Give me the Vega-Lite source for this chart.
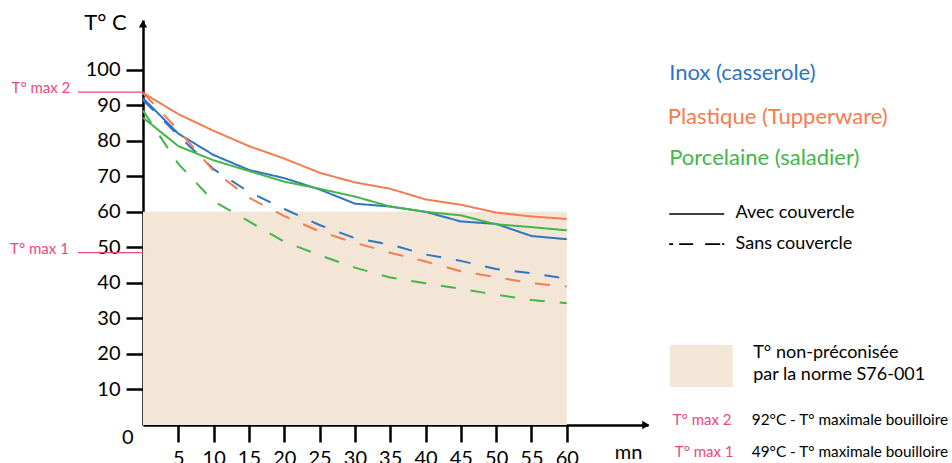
{
  "$schema": "https://vega.github.io/schema/vega-lite/v6.json",
  "width": 505,
  "height": 405,
  "autosize": {"type": "none"},
  "padding": {"left": 143, "top": 20, "right": 304, "bottom": 38},
  "background": "white",
  "config": {"view": {"stroke": null}, "font": "Lato"},
  "datasets": {
    "series": [
      {"m": "Inox (casserole)", "c": "Avec couvercle", "t": 0, "v": 92},
      {"m": "Inox (casserole)", "c": "Avec couvercle", "t": 5, "v": 82},
      {"m": "Inox (casserole)", "c": "Avec couvercle", "t": 10, "v": 76},
      {"m": "Inox (casserole)", "c": "Avec couvercle", "t": 15, "v": 71.8},
      {"m": "Inox (casserole)", "c": "Avec couvercle", "t": 20, "v": 69.5},
      {"m": "Inox (casserole)", "c": "Avec couvercle", "t": 25, "v": 66.3},
      {"m": "Inox (casserole)", "c": "Avec couvercle", "t": 30, "v": 62.3},
      {"m": "Inox (casserole)", "c": "Avec couvercle", "t": 35, "v": 61.5},
      {"m": "Inox (casserole)", "c": "Avec couvercle", "t": 40, "v": 60},
      {"m": "Inox (casserole)", "c": "Avec couvercle", "t": 45, "v": 57.3},
      {"m": "Inox (casserole)", "c": "Avec couvercle", "t": 50, "v": 56.6},
      {"m": "Inox (casserole)", "c": "Avec couvercle", "t": 55, "v": 53.2},
      {"m": "Inox (casserole)", "c": "Avec couvercle", "t": 60, "v": 52.3},
      {"m": "Inox (casserole)", "c": "Sans couvercle", "t": 0, "v": 91.5},
      {"m": "Inox (casserole)", "c": "Sans couvercle", "t": 5, "v": 81.5},
      {"m": "Inox (casserole)", "c": "Sans couvercle", "t": 10, "v": 72},
      {"m": "Inox (casserole)", "c": "Sans couvercle", "t": 15, "v": 65.6},
      {"m": "Inox (casserole)", "c": "Sans couvercle", "t": 20, "v": 60.8},
      {"m": "Inox (casserole)", "c": "Sans couvercle", "t": 25, "v": 56.3},
      {"m": "Inox (casserole)", "c": "Sans couvercle", "t": 30, "v": 52.6},
      {"m": "Inox (casserole)", "c": "Sans couvercle", "t": 35, "v": 50.8},
      {"m": "Inox (casserole)", "c": "Sans couvercle", "t": 40, "v": 48},
      {"m": "Inox (casserole)", "c": "Sans couvercle", "t": 45, "v": 46.2},
      {"m": "Inox (casserole)", "c": "Sans couvercle", "t": 50, "v": 43.9},
      {"m": "Inox (casserole)", "c": "Sans couvercle", "t": 55, "v": 42.7},
      {"m": "Inox (casserole)", "c": "Sans couvercle", "t": 60, "v": 41.2},
      {"m": "Plastique (Tupperware)", "c": "Avec couvercle", "t": 0, "v": 93.5},
      {"m": "Plastique (Tupperware)", "c": "Avec couvercle", "t": 5, "v": 87.5},
      {"m": "Plastique (Tupperware)", "c": "Avec couvercle", "t": 10, "v": 82.8},
      {"m": "Plastique (Tupperware)", "c": "Avec couvercle", "t": 15, "v": 78.5},
      {"m": "Plastique (Tupperware)", "c": "Avec couvercle", "t": 20, "v": 75},
      {"m": "Plastique (Tupperware)", "c": "Avec couvercle", "t": 25, "v": 71},
      {"m": "Plastique (Tupperware)", "c": "Avec couvercle", "t": 30, "v": 68.3},
      {"m": "Plastique (Tupperware)", "c": "Avec couvercle", "t": 35, "v": 66.5},
      {"m": "Plastique (Tupperware)", "c": "Avec couvercle", "t": 40, "v": 63.5},
      {"m": "Plastique (Tupperware)", "c": "Avec couvercle", "t": 45, "v": 62},
      {"m": "Plastique (Tupperware)", "c": "Avec couvercle", "t": 50, "v": 59.8},
      {"m": "Plastique (Tupperware)", "c": "Avec couvercle", "t": 55, "v": 58.7},
      {"m": "Plastique (Tupperware)", "c": "Avec couvercle", "t": 60, "v": 58},
      {"m": "Plastique (Tupperware)", "c": "Sans couvercle", "t": 0, "v": 93.5},
      {"m": "Plastique (Tupperware)", "c": "Sans couvercle", "t": 5, "v": 83},
      {"m": "Plastique (Tupperware)", "c": "Sans couvercle", "t": 10, "v": 71.5},
      {"m": "Plastique (Tupperware)", "c": "Sans couvercle", "t": 15, "v": 64},
      {"m": "Plastique (Tupperware)", "c": "Sans couvercle", "t": 20, "v": 58.8},
      {"m": "Plastique (Tupperware)", "c": "Sans couvercle", "t": 25, "v": 54.5},
      {"m": "Plastique (Tupperware)", "c": "Sans couvercle", "t": 30, "v": 51.3},
      {"m": "Plastique (Tupperware)", "c": "Sans couvercle", "t": 35, "v": 48.5},
      {"m": "Plastique (Tupperware)", "c": "Sans couvercle", "t": 40, "v": 46},
      {"m": "Plastique (Tupperware)", "c": "Sans couvercle", "t": 45, "v": 43.3},
      {"m": "Plastique (Tupperware)", "c": "Sans couvercle", "t": 50, "v": 41.6},
      {"m": "Plastique (Tupperware)", "c": "Sans couvercle", "t": 55, "v": 39.9},
      {"m": "Plastique (Tupperware)", "c": "Sans couvercle", "t": 60, "v": 39},
      {"m": "Porcelaine (saladier)", "c": "Avec couvercle", "t": 0, "v": 86.5},
      {"m": "Porcelaine (saladier)", "c": "Avec couvercle", "t": 5, "v": 78.5},
      {"m": "Porcelaine (saladier)", "c": "Avec couvercle", "t": 10, "v": 74.5},
      {"m": "Porcelaine (saladier)", "c": "Avec couvercle", "t": 15, "v": 71.5},
      {"m": "Porcelaine (saladier)", "c": "Avec couvercle", "t": 20, "v": 68.5},
      {"m": "Porcelaine (saladier)", "c": "Avec couvercle", "t": 25, "v": 66.5},
      {"m": "Porcelaine (saladier)", "c": "Avec couvercle", "t": 30, "v": 64.3},
      {"m": "Porcelaine (saladier)", "c": "Avec couvercle", "t": 35, "v": 61.5},
      {"m": "Porcelaine (saladier)", "c": "Avec couvercle", "t": 40, "v": 60},
      {"m": "Porcelaine (saladier)", "c": "Avec couvercle", "t": 45, "v": 59},
      {"m": "Porcelaine (saladier)", "c": "Avec couvercle", "t": 50, "v": 56.5},
      {"m": "Porcelaine (saladier)", "c": "Avec couvercle", "t": 55, "v": 55.7},
      {"m": "Porcelaine (saladier)", "c": "Avec couvercle", "t": 60, "v": 54.8},
      {"m": "Porcelaine (saladier)", "c": "Sans couvercle", "t": 0, "v": 88.5},
      {"m": "Porcelaine (saladier)", "c": "Sans couvercle", "t": 5, "v": 73.5},
      {"m": "Porcelaine (saladier)", "c": "Sans couvercle", "t": 10, "v": 63},
      {"m": "Porcelaine (saladier)", "c": "Sans couvercle", "t": 15, "v": 57.3},
      {"m": "Porcelaine (saladier)", "c": "Sans couvercle", "t": 20, "v": 51.6},
      {"m": "Porcelaine (saladier)", "c": "Sans couvercle", "t": 25, "v": 47.8},
      {"m": "Porcelaine (saladier)", "c": "Sans couvercle", "t": 30, "v": 44.3},
      {"m": "Porcelaine (saladier)", "c": "Sans couvercle", "t": 35, "v": 41.5},
      {"m": "Porcelaine (saladier)", "c": "Sans couvercle", "t": 40, "v": 39.9},
      {"m": "Porcelaine (saladier)", "c": "Sans couvercle", "t": 45, "v": 38.3},
      {"m": "Porcelaine (saladier)", "c": "Sans couvercle", "t": 50, "v": 36.7},
      {"m": "Porcelaine (saladier)", "c": "Sans couvercle", "t": 55, "v": 35.2},
      {"m": "Porcelaine (saladier)", "c": "Sans couvercle", "t": 60, "v": 34.3}
    ]
  },
  "layer": [
    {
      "data": {"values": [{"x": 0, "x2": 60, "y": 0, "y2": 60}]},
      "mark": {"type": "rect", "color": "#f3e6d6"},
      "encoding": {
        "x": {"field": "x", "type": "quantitative", "scale": {"domain": [0, 71.5], "nice": false},
          "axis": {"values": [5, 10, 15, 20, 25, 30, 35, 40, 45, 50, 55, 60], "title": "mn", "titleX": 485, "titleY": 17, "titleAlign": "center", "titleBaseline": "top", "titleFontSize": 20, "titleFontWeight": "normal", "titleColor": "black", "titleFont": "Lato",
            "domainColor": "black", "domainWidth": 2.5, "tickColor": "black", "tickWidth": 2.5, "tickSize": 17, "labelFontSize": 20, "labelColor": "black", "labelFont": "Lato", "labelPadding": 6, "grid": false, "labelOverlap": false}},
        "x2": {"field": "x2"},
        "y": {"field": "y", "type": "quantitative", "scale": {"domain": [0, 114], "nice": false},
          "axis": {"values": [0, 10, 20, 30, 40, 50, 60, 70, 80, 90, 100], "title": "T° C", "titleAngle": 0, "titleX": -38, "titleY": 2, "titleAlign": "center", "titleBaseline": "middle", "titleFontSize": 22, "titleFontWeight": "normal", "titleColor": "black", "titleFont": "Lato",
            "domainColor": "black", "domainWidth": 2.5, "tickColor": "black", "tickWidth": 2.5, "tickSize": 17,
            "tickOpacity": {"condition": {"test": "datum.value === 0", "value": 0}, "value": 1},
            "labelPadding": {"condition": {"test": "datum.value === 0", "value": -7}, "value": 6},
            "labelOffset": {"condition": {"test": "datum.value === 0", "value": 12}, "value": 0},
            "labelFontSize": 20, "labelColor": "black", "labelFont": "Lato", "grid": false, "labelOverlap": false}},
        "y2": {"field": "y2"}
      }
    },
    {
      "data": {"name": "series"},
      "mark": {"type": "line", "strokeWidth": 2},
      "encoding": {
        "x": {"field": "t", "type": "quantitative"},
        "y": {"field": "v", "type": "quantitative"},
        "color": {"field": "m", "type": "nominal", "scale": {"domain": ["Inox (casserole)", "Plastique (Tupperware)", "Porcelaine (saladier)"], "range": ["#2f74bf", "#f47c50", "#43b649"]}, "legend": null},
        "strokeDash": {"field": "c", "type": "nominal", "scale": {"domain": ["Avec couvercle", "Sans couvercle"], "range": [[1, 0], [15, 15]]}, "legend": null}
      }
    },
    {
      "data": {"values": [{"x": -9.2, "x2": 0, "y": 93.7}, {"x": -9.2, "x2": 0, "y": 48.5}]},
      "mark": {"type": "rule", "color": "#e94b7b", "strokeWidth": 1.3},
      "encoding": {
        "x": {"field": "x", "type": "quantitative"},
        "x2": {"field": "x2"},
        "y": {"field": "y", "type": "quantitative"}
      }
    },
    {
      "data": {"values": [{"x": -10.3, "y": 94.9, "label": "T° max 2"}, {"x": -10.5, "y": 49.5, "label": "T° max 1"}]},
      "mark": {"type": "text", "color": "#e94b7b", "fontSize": 15, "align": "right", "baseline": "middle", "font": "Lato"},
      "encoding": {
        "x": {"field": "x", "type": "quantitative"},
        "y": {"field": "y", "type": "quantitative"},
        "text": {"field": "label"}
      }
    },
    {
      "data": {"values": [{"x": 0, "y": 112.9, "s": "up"}, {"x": 71.2, "y": 0, "s": "right"}]},
      "mark": {"type": "point", "filled": true, "color": "black", "size": 70, "opacity": 1},
      "encoding": {
        "x": {"field": "x", "type": "quantitative"},
        "y": {"field": "y", "type": "quantitative"},
        "shape": {"field": "s", "type": "nominal", "scale": {"domain": ["up", "right"], "range": ["triangle-up", "triangle-right"]}, "legend": null}
      }
    },
    {
      "data": {"values": [
        {"x": 74.5, "y": 99.1, "m": "Inox (casserole)"},
        {"x": 74.3, "y": 86.7, "m": "Plastique (Tupperware)"},
        {"x": 74.5, "y": 75.2, "m": "Porcelaine (saladier)"}
      ]},
      "mark": {"type": "text", "fontSize": 22, "align": "left", "baseline": "middle", "font": "Lato"},
      "encoding": {
        "x": {"field": "x", "type": "quantitative"},
        "y": {"field": "y", "type": "quantitative"},
        "text": {"field": "m"},
        "color": {"field": "m", "type": "nominal", "legend": null}
      }
    },
    {
      "data": {"values": [{"x": 74.5, "x2": 82.3, "y": 59.4}]},
      "mark": {"type": "rule", "color": "black", "strokeWidth": 1.6},
      "encoding": {
        "x": {"field": "x", "type": "quantitative"},
        "x2": {"field": "x2"},
        "y": {"field": "y", "type": "quantitative"}
      }
    },
    {
      "data": {"values": [{"x": 74.5, "x2": 82.3, "y": 50.9}]},
      "mark": {"type": "rule", "color": "black", "strokeWidth": 1.6, "strokeDash": [4, 6, 14, 12, 15, 2, 5, 50]},
      "encoding": {
        "x": {"field": "x", "type": "quantitative"},
        "x2": {"field": "x2"},
        "y": {"field": "y", "type": "quantitative"}
      }
    },
    {
      "data": {"values": [{"x": 74.6, "x2": 83.5, "y": 10.7, "y2": 22.5}]},
      "mark": {"type": "rect", "color": "#f3e6d6"},
      "encoding": {
        "x": {"field": "x", "type": "quantitative"},
        "x2": {"field": "x2"},
        "y": {"field": "y", "type": "quantitative"},
        "y2": {"field": "y2"}
      }
    },
    {
      "data": {"values": [
        {"x": 83.9, "y": 59.7, "label": "Avec couvercle"},
        {"x": 83.9, "y": 50.9, "label": "Sans couvercle"},
        {"x": 86.4, "y": 20.3, "label": "T° non-préconisée"},
        {"x": 86.4, "y": 14.1, "label": "par la norme S76-001"}
      ]},
      "mark": {"type": "text", "fontSize": 18, "align": "left", "baseline": "middle", "color": "black", "font": "Lato"},
      "encoding": {
        "x": {"field": "x", "type": "quantitative"},
        "y": {"field": "y", "type": "quantitative"},
        "text": {"field": "label"}
      }
    },
    {
      "data": {"values": [
        {"x": 86.2, "y": 1.4, "label": "92°C - T° maximale bouilloire"},
        {"x": 86.2, "y": -7.6, "label": "49°C - T° maximale bouilloire"}
      ]},
      "mark": {"type": "text", "fontSize": 15.3, "align": "left", "baseline": "middle", "color": "black", "font": "Lato"},
      "encoding": {
        "x": {"field": "x", "type": "quantitative"},
        "y": {"field": "y", "type": "quantitative"},
        "text": {"field": "label"}
      }
    },
    {
      "data": {"values": [
        {"x": 75.0, "y": 1.4, "label": "T° max 2"},
        {"x": 75.3, "y": -7.6, "label": "T° max 1"}
      ]},
      "mark": {"type": "text", "fontSize": 15, "align": "left", "baseline": "middle", "color": "#e94b7b", "font": "Lato"},
      "encoding": {
        "x": {"field": "x", "type": "quantitative"},
        "y": {"field": "y", "type": "quantitative"},
        "text": {"field": "label"}
      }
    }
  ]
}
